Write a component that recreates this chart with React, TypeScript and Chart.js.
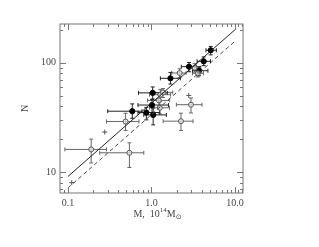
import React, { useEffect, useRef } from "react";
import { Chart, registerables } from "chart.js";

Chart.register(...registerables);

// Filled (black) clusters
const filledM = [5.13, 4.23, 3.72, 2.82, 1.69, 1.036, 1.017, 1.05, 0.87, 0.59];
const filledN = [130, 103, 84.5, 92, 72, 53, 41, 33.3, 35, 36];
const filledMlo = [4.5, 3.52, 3.1, 2.28, 1.28, 0.7, 0.69, 0.81, 0.69, 0.3];
const filledMhi = [6.0, 5.1, 4.75, 3.46, 2.22, 1.55, 1.6, 1.51, 1.26, 0.77];
const filledNlo = [118, 94, 76, 82.7, 63.8, 46.6, 35, 27, 30, 31];
const filledNhi = [141, 113, 92, 100.6, 81.5, 60, 46, 38.5, 39, 42];

// Open (grey) clusters
const openM = [0.19, 0.545, 0.49, 2.26, 2.98, 1.28, 1.38, 1.23, 1.26, 2.18, 3.3, 3.6];
const openN = [16.1, 15.0, 29, 29.2, 41.3, 51, 53.5, 45.2, 38.7, 80.5, 90, 80];
const openMlo = [0.092, 0.24, 0.29, 1.38, 1.99, 0.95, 1.05, 0.9, 0.95, 1.75, 2.8, 3.1];
const openMhi = [0.29, 0.81, 0.71, 3.15, 4.04, 1.7, 1.8, 1.65, 1.65, 2.6, 3.9, 4.2];
const openNlo = [12.1, 11, 24, 24, 34.7, 45, 48, 40, 34, 73, 82, 74];
const openNhi = [20, 18.5, 34.5, 34.5, 47.6, 57, 58, 51, 44, 88, 98, 88];

// Plus markers
const plusM = [0.276, 0.111, 2.8];
const plusN = [23.2, 8.0, 50.2];

// Fit lines
const fitM = [0.1, 10];
const solidN = [9.1, 200];
const dashedN = [7.14, 157];

// Axis ticks
const xMajor = [0.1, 1, 10];
const xLabels = ["0.1", "1.0", "10.0"];
const xMinor = [0.09, 0.2, 0.3, 0.4, 0.5, 0.6, 0.7, 0.8, 0.9, 2, 3, 4, 5, 6, 7, 8, 9, 11, 12];
const yMajor = [10, 100];
const yLabels = ["10", "100"];
const yMinor = [7, 8, 9, 20, 30, 40, 50, 60, 70, 80, 90, 200];

const toPts = (xs: number[], ys: number[]) => xs.map((x, i) => ({ x, y: ys[i] }));

const errorBarPlugin = {
  id: "errorBars",
  beforeDatasetsDraw(chart: any) {
    const ctx = chart.ctx;
    const xs = chart.scales.x;
    const ys = chart.scales.y;
    chart.data.datasets.forEach((ds: any) => {
      if (!ds.errors) return;
      const e = ds.errors;
      ctx.save();
      ctx.strokeStyle = ds.errColor;
      ctx.lineWidth = 1;
      const cap = 2;
      ds.data.forEach((p: any, i: number) => {
        const px = xs.getPixelForValue(p.x);
        const py = ys.getPixelForValue(p.y);
        const x1 = xs.getPixelForValue(e.xlo[i]);
        const x2 = xs.getPixelForValue(e.xhi[i]);
        const y1 = ys.getPixelForValue(e.ylo[i]);
        const y2 = ys.getPixelForValue(e.yhi[i]);
        ctx.beginPath();
        ctx.moveTo(x1, py); ctx.lineTo(x2, py);
        ctx.moveTo(x1, py - cap); ctx.lineTo(x1, py + cap);
        ctx.moveTo(x2, py - cap); ctx.lineTo(x2, py + cap);
        ctx.moveTo(px, y1); ctx.lineTo(px, y2);
        ctx.moveTo(px - cap, y1); ctx.lineTo(px + cap, y1);
        ctx.moveTo(px - cap, y2); ctx.lineTo(px + cap, y2);
        ctx.stroke();
      });
      ctx.restore();
    });
  },
};

const frameTicksPlugin = {
  id: "frameTicks",
  afterDraw(chart: any) {
    const ctx = chart.ctx;
    const a = chart.chartArea;
    const xs = chart.scales.x;
    const ys = chart.scales.y;
    ctx.save();
    ctx.strokeStyle = "#777";
    ctx.lineWidth = 1;
    ctx.strokeRect(a.left, a.top, a.right - a.left, a.bottom - a.top);
    ctx.beginPath();
    const drawX = (v: number, len: number) => {
      const p = Math.round(xs.getPixelForValue(v)) + 0.5;
      ctx.moveTo(p, a.bottom); ctx.lineTo(p, a.bottom - len);
      ctx.moveTo(p, a.top); ctx.lineTo(p, a.top + len);
    };
    const drawY = (v: number, len: number) => {
      const p = Math.round(ys.getPixelForValue(v)) + 0.5;
      ctx.moveTo(a.left, p); ctx.lineTo(a.left + len, p);
      ctx.moveTo(a.right, p); ctx.lineTo(a.right - len, p);
    };
    xMajor.forEach((v) => drawX(v, 6));
    xMinor.forEach((v) => drawX(v, 3));
    yMajor.forEach((v) => drawY(v, 6));
    yMinor.forEach((v) => drawY(v, 3));
    ctx.stroke();

    // axis titles
    ctx.fillStyle = "#444";
    ctx.textBaseline = "alphabetic";
    ctx.font = "10px 'Liberation Serif'";
    const cx = (a.left + a.right) / 2;
    const base = 217;
    const p1 = "M,  10";
    const w1 = ctx.measureText(p1).width;
    ctx.font = "7px 'Liberation Serif'";
    const wSup = ctx.measureText("14").width;
    ctx.font = "10px 'Liberation Serif'";
    const wM = ctx.measureText("M").width;
    ctx.font = "7px 'DejaVu Sans'";
    const wSun = ctx.measureText("\u2299").width;
    const total = w1 + wSup + wM + wSun;
    let x = cx - total / 2 + 6;
    ctx.font = "10px 'Liberation Serif'";
    ctx.fillText(p1, x, base);
    x += w1;
    ctx.font = "7px 'Liberation Serif'";
    ctx.fillText("14", x, base - 5);
    x += wSup;
    ctx.font = "10px 'Liberation Serif'";
    ctx.fillText("M", x, base);
    x += wM;
    ctx.font = "7px 'DejaVu Sans'";
    ctx.fillText("\u2299", x, base + 2);

    ctx.font = "10px 'Liberation Serif'";
    ctx.translate(28, (a.top + a.bottom) / 2);
    ctx.rotate(-Math.PI / 2);
    ctx.textAlign = "center";
    ctx.fillText("N", 0, 0);
    ctx.restore();
  },
};

export default function App() {
  const ref = useRef<HTMLCanvasElement | null>(null);
  useEffect(() => {
    if (!ref.current) return;
    const chart = new Chart(ref.current, {
      type: "scatter",
      data: {
        datasets: [
          {
            label: "fit",
            data: toPts(fitM, solidN),
            showLine: true,
            borderColor: "#222",
            borderWidth: 1,
            pointRadius: 0,
          } as any,
          {
            label: "fit2",
            data: toPts(fitM, dashedN),
            showLine: true,
            borderColor: "#444",
            borderWidth: 1,
            borderDash: [4, 3],
            pointRadius: 0,
          } as any,
          {
            label: "open",
            data: toPts(openM, openN),
            pointRadius: 2.5,
            pointBackgroundColor: "rgba(255,255,255,0.6)",
            pointBorderColor: "#555",
            pointBorderWidth: 1,
            errors: { xlo: openMlo, xhi: openMhi, ylo: openNlo, yhi: openNhi },
            errColor: "#666",
          } as any,
          {
            label: "filled",
            data: toPts(filledM, filledN),
            pointRadius: 2.6,
            pointBackgroundColor: "#000",
            pointBorderColor: "#000",
            pointBorderWidth: 1,
            errors: { xlo: filledMlo, xhi: filledMhi, ylo: filledNlo, yhi: filledNhi },
            errColor: "#222",
          } as any,
          {
            label: "plus",
            data: toPts(plusM, plusN),
            pointStyle: "cross",
            pointRadius: 2.5,
            pointBorderColor: "#555",
            pointBorderWidth: 1,
          } as any,
        ],
      },
      options: {
        responsive: false,
        animation: false,
        events: [],
        layout: { padding: { left: 30, top: 24, right: 76, bottom: 34 } },
        plugins: { legend: { display: false }, tooltip: { enabled: false } },
        scales: {
          x: {
            type: "logarithmic",
            min: 0.0804,
            max: 12.5,
            grid: { display: false, drawTicks: false },
            border: { display: false },
            afterFit: (s: any) => { s.height = 20; },
            afterBuildTicks: (s: any) => { s.ticks = xMajor.map((v) => ({ value: v })); },
            ticks: {
              autoSkip: false,
              maxRotation: 0,
              padding: 4,
              color: "#444",
              font: { family: "'Liberation Serif'", size: 10 },
              callback: (v: any) => {
                const i = xMajor.findIndex((m) => Math.abs(m - Number(v)) < 1e-9);
                return i >= 0 ? xLabels[i] : "";
              },
            },
          },
          y: {
            type: "logarithmic",
            min: 6.43,
            max: 226,
            grid: { display: false, drawTicks: false },
            border: { display: false },
            afterFit: (s: any) => { s.width = 30; },
            afterBuildTicks: (s: any) => { s.ticks = yMajor.map((v) => ({ value: v })); },
            ticks: {
              autoSkip: false,
              padding: 4,
              color: "#444",
              font: { family: "'Liberation Serif'", size: 10 },
              callback: (v: any) => {
                const i = yMajor.findIndex((m) => Math.abs(m - Number(v)) < 1e-9);
                return i >= 0 ? yLabels[i] : "";
              },
            },
          },
        },
      } as any,
      plugins: [errorBarPlugin, frameTicksPlugin],
    });
    return () => chart.destroy();
  }, []);
  return (
    <canvas
      ref={ref}
      width={319}
      height={247}
      style={{ position: "fixed", left: 0, top: 0, width: 319, height: 247 }}
    />
  );
}
